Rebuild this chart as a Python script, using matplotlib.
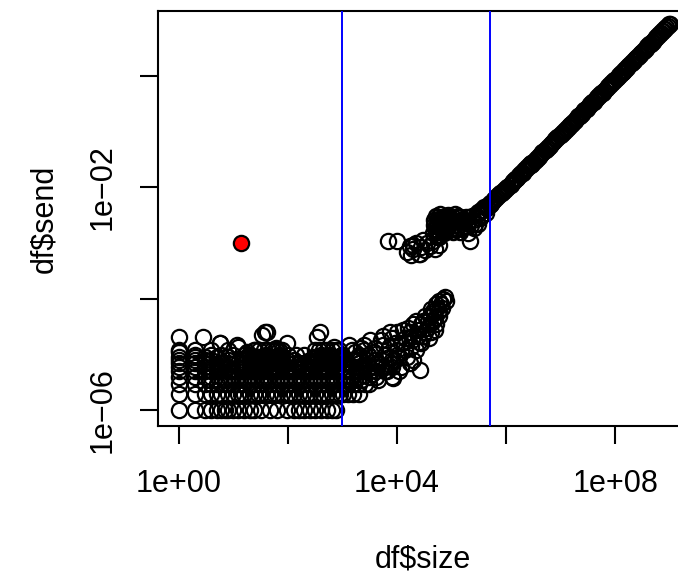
import numpy as np
import matplotlib.pyplot as plt

plt.rcParams['font.family'] = ['Liberation Sans', 'DejaVu Sans']

# small messages: send time sits on the 1 microsecond grid, one list per row
sizes_1us = [1, 2, 3, 4, 5, 6, 7, 8, 10, 12, 16, 20, 24, 32, 48, 64, 96, 128,
             160, 200, 256, 320, 400, 512, 640, 768]
sizes_2us = [1, 2, 3, 4, 5, 6, 8, 10, 12, 14, 16, 20, 24, 28, 32, 40, 48, 56,
             64, 80, 96, 112, 128, 160, 192, 224, 256, 320, 384, 448, 512, 640,
             768, 896, 1024, 1280, 1536, 2048]
sizes_3us = [1, 2, 3, 4, 5, 6, 7, 8, 10, 12, 16, 20, 24, 32, 40, 48, 64, 80,
             96, 128, 160, 192, 256, 320, 384, 512, 640, 768, 1024, 1280, 1536,
             2048, 2560, 3072]
sizes_4us = [1, 2, 3, 4, 6, 8, 10, 12, 16, 20, 24, 32, 40, 48, 64, 80, 96, 128,
             160, 192, 256, 320, 384, 512, 640, 768, 1024, 1536, 2048, 3072, 4096]
sizes_5us = [1, 2, 3, 4, 5, 6, 8, 10, 12, 16, 20, 24, 32, 48, 64, 96, 128, 192,
             256, 384, 512, 768, 1024, 2048, 4096, 6144]
sizes_6us = [1, 2, 3, 4, 5, 6, 8, 12, 16, 24, 32, 48, 64, 96, 128, 192, 256, 384,
             512, 768, 1024, 1536, 2048, 3072, 4096, 6144, 8192, 20, 28, 40, 56,
             80, 160, 320, 640]
sizes_7us = [1, 2, 3, 4, 6, 8, 12, 16, 32, 40, 48, 64, 80, 128, 200, 256, 300,
             512, 800, 1024, 2048, 4096, 8192, 20, 24, 28, 56, 96, 160, 384, 640,
             450, 700]
sizes_8us = [1, 2, 3, 4, 8, 16, 20, 24, 32, 40, 48, 64, 96, 128, 256, 512, 1024,
             1536, 2048, 4096, 8192, 28, 36, 44, 56, 72, 350, 420, 600, 900]
sizes_9us = [1, 2, 3, 5, 8, 20, 24, 28, 32, 36, 40, 48, 56, 64, 72, 80, 300,
             350, 400, 450, 500, 600, 700, 800, 900]
sizes_10us = [2, 4, 6, 10, 16, 20, 40, 70, 100, 140, 200, 400, 600, 1000, 2000,
              3000, 6000, 10000]
sizes_12us = [1, 2, 4, 8, 24, 30, 36, 44, 52, 60, 70, 80, 320, 380, 440, 520,
              640, 760, 880, 2500]

# scattered slow small sends
size_slow = [1, 1, 2.8, 5.7, 5.7, 12, 11.7, 18, 34, 38, 41, 96, 350, 390, 60, 25, 700]
send_slow = [2.1e-5, 1.1e-5, 2.1e-5, 1.65e-5, 1.6e-5, 1.4e-5, 1.5e-5, 1.1e-5,
             2.3e-5, 2.6e-5, 2.6e-5, 1.65e-5, 2.1e-5, 2.5e-5, 1.3e-5, 1.2e-5, 1.4e-5]

# rising part between 1e3 and 1e5
size_rise = [1000, 1200, 1500, 1800, 2000, 2500, 2500, 3000, 3500, 4000, 4000,
             5000, 5000, 6000, 7000, 8000, 8000, 8500, 9000, 10000, 10000, 12000,
             14000, 15000, 16000, 18000, 20000, 20000, 25000, 25000, 30000, 30000,
             35000, 40000, 40000, 45000, 50000, 50000, 55000, 60000, 60000, 65000,
             70000, 12000, 20000, 26000, 6000,
             1100, 1300, 1400, 1600, 1700, 2200, 2200, 2800, 3200, 3200, 3800,
             4500, 4500, 5500, 5500, 6500, 7000, 7500, 9000, 11000, 11000, 13000,
             14000, 17000, 17000, 19000, 22000, 22000, 24000, 28000, 28000, 33000,
             33000, 37000, 42000, 42000, 48000, 52000, 52000, 58000, 68000, 75000,
             80000, 46000, 38000]
send_rise = [1e-5, 7e-6, 1.2e-5, 5e-6, 9e-6, 1.5e-5, 6e-6, 1e-5, 4.5e-6, 8e-6,
             1.3e-5, 1.8e-5, 6e-6, 1e-5, 1.4e-5, 2e-5, 4e-6, 3.9e-6, 8e-6, 1.2e-5,
             2.5e-5, 1.6e-5, 2e-5, 9e-6, 3e-5, 1.4e-5, 2.2e-5, 3.5e-5, 2.8e-5,
             1.7e-5, 4e-5, 2.2e-5, 3e-5, 5e-5, 3.5e-5, 6e-5, 4.5e-5, 2.8e-5, 7e-5,
             9e-5, 6e-5, 8e-5, 1e-4, 6e-6, 8e-6, 5.4e-6, 5e-6,
             3e-6, 1.5e-5, 4e-6, 8e-6, 1.1e-5, 3.5e-6, 1.3e-5, 8e-6, 5e-6, 1.8e-5,
             1.1e-5, 3.5e-6, 7e-6, 1.5e-5, 2.2e-5, 5e-6, 9e-6, 2.5e-5, 1.6e-5,
             5e-6, 9e-6, 2.8e-5, 1.2e-5, 7e-6, 2.5e-5, 1.8e-5, 1.2e-5, 4e-5,
             2.2e-5, 1.6e-5, 3.5e-5, 2.6e-5, 5e-5, 4e-5, 2.5e-5, 6.5e-5, 5.5e-5,
             3.5e-5, 8e-5, 5e-5, 7e-5, 1.1e-4, 9e-5, 4e-5, 2e-5]

# middle cluster around 1e-3
size_mid = [6900, 10000, 15000, 17000, 18000, 19500, 20000, 22000, 25000, 26000,
            28000, 30000, 32000, 35000, 40000, 45000, 50000, 55000, 60000,
            50000, 55000, 60000, 65000, 70000, 75000, 80000, 90000, 100000,
            110000, 120000, 130000, 150000, 170000, 180000, 200000, 220000,
            250000, 280000, 330000, 380000, 420000, 60000, 140000, 300000,
            46000, 48000, 52000, 54000, 58000, 62000, 66000, 68000, 72000, 78000,
            85000, 95000, 105000, 115000, 125000, 135000, 160000, 190000, 230000,
            260000, 300000, 350000, 400000, 450000, 47000, 57000, 67000, 77000,
            88000, 98000,
            51000, 56000, 61000, 64000, 69000, 73000, 82000, 86000, 92000,
            102000, 108000, 118000, 145000, 155000, 165000, 210000, 240000,
            270000, 320000, 360000, 440000]
send_mid = [1.07e-3, 1.1e-3, 7e-4, 9e-4, 6e-4, 9.3e-4, 8e-4, 1e-3, 6.5e-4, 6.3e-4,
            8.5e-4, 1.15e-3, 7.5e-4, 1e-3, 9e-4, 1.1e-3, 8e-4, 1.3e-3, 9.3e-4,
            1.8e-3, 2.2e-3, 1.6e-3, 2.5e-3, 2e-3, 1.7e-3, 2.8e-3, 2.2e-3, 1.9e-3,
            2.6e-3, 2.1e-3, 3e-3, 2.4e-3, 2e-3, 2.9e-3, 1.5e-3, 1.07e-3, 2.6e-3,
            3.2e-3, 2.8e-3, 4e-3, 3.5e-3, 1.3e-3, 1.6e-3, 2.2e-3,
            1.5e-3, 2.6e-3, 3e-3, 1.4e-3, 2.4e-3, 3.3e-3, 1.9e-3, 2.9e-3, 1.5e-3,
            2.3e-3, 3.2e-3, 2.7e-3, 1.6e-3, 3.3e-3, 1.8e-3, 2.4e-3, 2.7e-3, 2.3e-3,
            2.1e-3, 1.9e-3, 3.6e-3, 3.9e-3, 4.4e-3, 4.6e-3, 2.1e-3, 2.9e-3, 1.7e-3,
            3.1e-3, 2.6e-3, 2.3e-3,
            2e-3, 1.7e-3, 2.7e-3, 2.2e-3, 1.6e-3, 2.6e-3, 1.9e-3, 3e-3, 1.7e-3,
            2.5e-3, 2.9e-3, 1.9e-3, 2.9e-3, 1.9e-3, 2.5e-3, 2.5e-3, 3e-3,
            2.2e-3, 3.5e-3, 3.2e-3, 4.2e-3]

# large messages, bandwidth bound
size_big = [5.0e5, 5.3e5, 5.8e5, 6.3e5, 6.9e5, 7.5e5, 8.2e5, 9.0e5,
            1.0e6, 1.1e6, 1.2e6, 1.3e6, 1.4e6, 1.5e6, 1.6e6, 1.8e6, 2.0e6, 2.2e6,
            2.4e6, 2.6e6, 2.8e6,
            3.0e6, 3.3e6, 3.6e6, 4.0e6, 4.4e6, 4.8e6, 5.3e6, 5.8e6, 6.3e6, 6.9e6,
            7.5e6, 8.2e6, 9.0e6,
            1.0e7, 1.1e7, 1.2e7, 1.3e7, 1.4e7, 1.5e7, 1.6e7, 1.8e7, 2.0e7, 2.2e7,
            2.4e7, 2.6e7, 2.8e7, 3.0e7, 3.3e7, 3.6e7, 4.0e7, 4.4e7, 4.8e7, 5.3e7,
            5.8e7, 6.3e7, 6.9e7, 7.5e7, 8.2e7, 9.0e7,
            1.0e8, 1.1e8, 1.2e8, 1.3e8, 1.4e8, 1.5e8, 1.6e8, 1.8e8, 2.0e8, 2.2e8,
            2.4e8, 2.6e8, 2.8e8, 3.0e8, 3.3e8, 3.6e8, 4.0e8, 4.4e8, 4.8e8, 5.3e8,
            5.8e8, 6.3e8, 6.9e8, 7.5e8, 8.2e8, 9.0e8, 1.0e9]
send_big = [4.8e-3, 5.1e-3, 5.57e-3, 6.05e-3, 6.62e-3, 7.2e-3, 7.87e-3, 8.64e-3,
            9.4e-3, 1.03e-2, 1.12e-2, 1.21e-2, 1.3e-2, 1.39e-2, 1.48e-2, 1.66e-2,
            1.84e-2, 2.02e-2, 2.2e-2, 2.37e-2, 2.55e-2,
            2.67e-2, 2.94e-2, 3.2e-2, 3.56e-2, 3.92e-2, 4.27e-2, 4.72e-2, 5.16e-2,
            5.6e-2, 6.14e-2, 6.68e-2, 7.3e-2, 8.0e-2,
            8.7e-2, 9.5e-2, 0.104, 0.112, 0.121, 0.13, 0.138, 0.155, 0.172, 0.19,
            0.207, 0.224, 0.241, 0.258, 0.284, 0.31, 0.344, 0.378, 0.413, 0.456,
            0.499, 0.542, 0.593, 0.645, 0.705, 0.774,
            0.85, 0.935, 1.02, 1.1, 1.19, 1.27, 1.36, 1.53, 1.7, 1.87,
            2.04, 2.21, 2.38, 2.55, 2.8, 3.06, 3.4, 3.74, 4.08, 4.5,
            4.93, 5.36, 5.87, 6.38, 6.97, 7.65, 8.5]

# second run of the large messages, slightly slower
size_big2 = [5.15e5, 5.55e5, 6.05e5, 6.6e5, 7.2e5, 7.85e5, 8.6e5, 9.5e5,
             1.05e6, 1.15e6, 1.25e6, 1.35e6, 1.45e6, 1.55e6, 1.7e6, 1.9e6, 2.1e6,
             2.3e6, 2.5e6, 2.7e6, 2.9e6,
             3.15e6, 3.45e6, 3.8e6, 4.2e6, 4.6e6, 5.05e6, 5.55e6, 6.05e6, 6.6e6,
             7.2e6, 7.85e6, 8.6e6, 9.5e6,
             1.05e7, 1.15e7, 1.25e7, 1.35e7, 1.45e7, 1.55e7, 1.7e7, 1.9e7, 2.1e7,
             2.3e7, 2.5e7, 2.7e7, 2.9e7, 3.15e7, 3.45e7, 3.8e7, 4.2e7, 4.6e7,
             5.05e7, 5.55e7, 6.05e7, 6.6e7, 7.2e7, 7.85e7, 8.6e7, 9.5e7,
             1.05e8, 1.15e8, 1.25e8, 1.35e8, 1.45e8, 1.55e8, 1.7e8, 1.9e8, 2.1e8,
             2.3e8, 2.5e8, 2.7e8, 2.9e8, 3.15e8, 3.45e8, 3.8e8, 4.2e8, 4.6e8,
             5.05e8, 5.55e8, 6.05e8, 6.6e8, 7.2e8, 7.85e8, 8.6e8, 9.5e8]
send_big2 = [5.15e-3, 5.55e-3, 6.05e-3, 6.6e-3, 7.2e-3, 7.85e-3, 8.6e-3, 9.5e-3,
             1.01e-2, 1.1e-2, 1.2e-2, 1.3e-2, 1.39e-2, 1.49e-2, 1.63e-2, 1.82e-2,
             2.02e-2, 2.21e-2, 2.4e-2, 2.59e-2, 2.78e-2,
             2.9e-2, 3.17e-2, 3.5e-2, 3.86e-2, 4.23e-2, 4.65e-2, 5.11e-2, 5.57e-2,
             6.07e-2, 6.62e-2, 7.22e-2, 7.91e-2, 8.74e-2,
             9.35e-2, 0.102, 0.111, 0.12, 0.129, 0.138, 0.151, 0.169, 0.187,
             0.205, 0.223, 0.24, 0.258, 0.28, 0.307, 0.338, 0.374, 0.409,
             0.449, 0.494, 0.538, 0.587, 0.641, 0.699, 0.765, 0.846,
             0.924, 1.01, 1.1, 1.19, 1.28, 1.36, 1.5, 1.67, 1.85,
             2.02, 2.2, 2.38, 2.55, 2.77, 3.04, 3.34, 3.7, 4.05,
             4.44, 4.88, 5.32, 5.81, 6.34, 6.91, 7.57, 8.36]

# highlighted point and the two cut-offs
red_size = [14]
red_send = [1e-3]
cutoffs = [1000, 500000]

W, H = 678, 575
fig = plt.figure(figsize=(W / 100, H / 100), dpi=100)
ax = fig.add_axes([157.5 / W, (H - 426) / H, 530 / W, 415 / H])

mk = dict(linestyle='none', marker='o', markersize=11, markerfacecolor='none',
          markeredgecolor='black', markeredgewidth=1.6)

rows = [(sizes_1us, 1e-6), (sizes_2us, 2e-6), (sizes_3us, 3e-6), (sizes_4us, 4e-6),
        (sizes_5us, 5e-6), (sizes_6us, 6e-6), (sizes_7us, 7e-6), (sizes_8us, 8e-6),
        (sizes_9us, 9e-6), (sizes_10us, 1e-5), (sizes_12us, 1.2e-5)]
for sizes, t in rows:
    ax.plot(sizes, [t] * len(sizes), **mk)
ax.plot(size_slow, send_slow, **mk)
ax.plot(size_rise, send_rise, **mk)
ax.plot(size_mid, send_mid, **mk)
ax.plot(size_big, send_big, **mk)
ax.plot(size_big2, send_big2, **mk)
ax.plot(red_size, red_send, linestyle='none', marker='o', markersize=11,
        markerfacecolor='red', markeredgecolor='black', markeredgewidth=1.6)

for c in cutoffs:
    ax.axvline(c, color='blue', lw=1.4, zorder=5)

ax.set_xscale('log')
ax.set_yscale('log')
ax.set_xlim(10 ** -0.386, 10 ** 9.32)
ax.set_ylim(10 ** -6.278, 10 ** 1.16)

ax.set_xticks([1, 1e2, 1e4, 1e6, 1e8])
ax.set_xticklabels(['1e+00', '', '1e+04', '', '1e+08'])
ax.set_yticks([1e-6, 1e-4, 1e-2, 1])
ax.set_yticklabels(['1e\u221206', '', '1e\u221202', ''], rotation=90, va='center')
ax.minorticks_off()

ax.tick_params(length=13, width=1.5, labelsize=22, direction='out')
ax.tick_params(axis='x', pad=18)
ax.tick_params(axis='y', pad=16)
for s in ax.spines.values():
    s.set_linewidth(1.5)

ax.set_xlabel('df$size', fontsize=22, labelpad=33)
ax.set_ylabel('df$send', fontsize=22, labelpad=20)

fig.savefig('out.png', dpi=100)
